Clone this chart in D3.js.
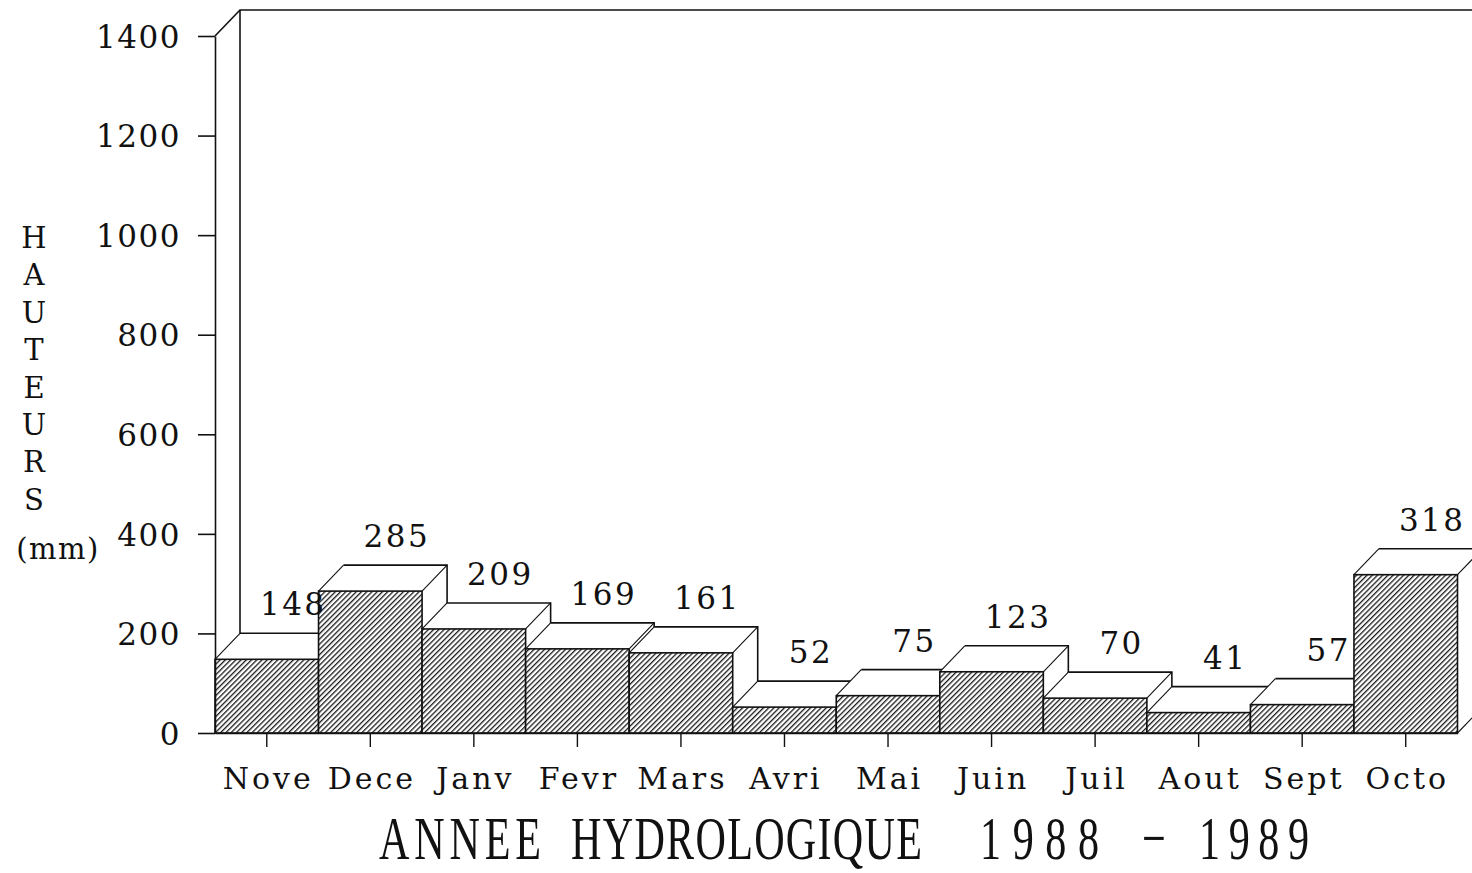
<!DOCTYPE html>
<html>
<head>
<meta charset="utf-8">
<script src="https://cdn.jsdelivr.net/npm/d3@7/dist/d3.min.js"></script>
<style>
  html, body { margin: 0; padding: 0; background: #fff; }
  svg { display: block; }
  .lbl { font-family: "DejaVu Serif", serif; fill: #111; }
</style>
</head>
<body>
<svg id="chart" width="1472" height="873"></svg>
<script>
// Monthly rainfall, hydrological year 1988-1989
const months = ["Nove", "Dece", "Janv", "Fevr", "Mars", "Avri", "Mai", "Juin", "Juil", "Aout", "Sept", "Octo"];
const heights = [148, 285, 209, 169, 161, 52, 75, 123, 70, 41, 57, 318];
const yTicks = [0, 200, 400, 600, 800, 1000, 1200, 1400];
const yLetters = ["H", "A", "U", "T", "E", "U", "R", "S"];
const yUnit = "(mm)";
const titleWords = ["ANNEE", "HYDROLOGIQUE", "1988", "\u2212", "1989"];

// layout of the condensed title: left edge and width of each word
const titleLayout = [[379, 162], [571, 351], [980, 119], [1142, 22], [1199, 110]];

const svg = d3.select("#chart");
const ink = "#111";

const x = d3.scaleBand().domain(months).range([215, 1457.5]).padding(0);
const y = d3.scaleLinear().domain([0, 1400]).range([733, 36]);
const dx = 25, dy = -26;   // oblique depth offset

// hatch pattern for the bar fronts
const defs = svg.append("defs");
const pat = defs.append("pattern")
  .attr("id", "hatch")
  .attr("patternUnits", "userSpaceOnUse")
  .attr("width", 3.7).attr("height", 10)
  .attr("patternTransform", "rotate(45)");
pat.append("rect").attr("width", 3.7).attr("height", 10).attr("fill", "#fff");
pat.append("rect").attr("width", 1.3).attr("height", 10).attr("fill", "#1a1a1a");

// back wall: top edge and rear vertical
const x0 = x.range()[0], x1 = x.range()[1];
svg.append("path")
  .attr("d", `M${x0},${y(1400)} L${x0 + dx},${y(1400) + dy} L${x1 + dx + 20},${y(1400) + dy}`)
  .attr("fill", "none").attr("stroke", ink).attr("stroke-width", 1.6);
svg.append("line")
  .attr("x1", x0 + dx).attr("x2", x0 + dx)
  .attr("y1", y(1400) + dy).attr("y2", y(0) + dy)
  .attr("stroke", ink).attr("stroke-width", 1.6);

// bars, painted left to right so each hides its neighbour's side face
const data = months.map((m, i) => ({ m, v: heights[i] }));
const bars = svg.append("g").selectAll("g").data(data).join("g");

bars.each(function(d) {
  const g = d3.select(this);
  const L = x(d.m), R = x(d.m) + x.bandwidth();
  const T = y(d.v), B = y(0);
  // right side face
  g.append("path")
    .attr("d", `M${R},${T} L${R + dx},${T + dy} L${R + dx},${B + dy} L${R},${B} Z`)
    .attr("fill", "#fff").attr("stroke", "none");
  // top face
  g.append("path")
    .attr("d", `M${L},${T} L${L + dx},${T + dy} L${R + dx},${T + dy} L${R},${T} Z`)
    .attr("fill", "#fff").attr("stroke", "none");
  // front face
  g.append("rect")
    .attr("x", L).attr("y", T).attr("width", R - L).attr("height", B - T)
    .attr("fill", "url(#hatch)").attr("stroke", ink).attr("stroke-width", 1.6);
  // edges of the top and side
  g.append("path")
    .attr("d", `M${L + dx},${T + dy} L${R + dx},${T + dy} L${R + dx},${B + dy}`)
    .attr("fill", "none").attr("stroke", ink).attr("stroke-width", 1.6);
  g.append("path")
    .attr("d", `M${L},${T} L${L + dx},${T + dy} M${R},${T} L${R + dx},${T + dy} M${R},${B} L${R + dx},${B + dy}`)
    .attr("fill", "none").attr("stroke", ink).attr("stroke-width", 1.1);
});

// value labels above each top face
svg.append("g").selectAll("text").data(data).join("text")
  .attr("class", "lbl")
  .attr("x", d => x(d.m) + x.bandwidth() / 2 + dx + 1.5)
  .attr("y", d => y(d.v) + dy - 18)
  .attr("text-anchor", "middle")
  .attr("font-size", 31)
  .attr("letter-spacing", 2.5)
  .text(d => d.v);

// left axis
const yAxis = svg.append("g")
  .attr("transform", `translate(${x0},0)`)
  .call(d3.axisLeft(y).tickValues(yTicks).tickSize(17).tickSizeOuter(0).tickPadding(17)
    .tickFormat(d3.format("d")));
yAxis.select(".domain").attr("stroke", ink).attr("stroke-width", 1.6);
yAxis.selectAll(".tick line").attr("stroke", ink).attr("stroke-width", 1.6);
yAxis.selectAll(".tick text")
  .attr("class", "lbl")
  .attr("font-size", 31)
  .attr("letter-spacing", 1.5)
  .attr("dy", "0.36em")
  .attr("fill", ink);

// bottom axis
const xAxis = svg.append("g")
  .attr("transform", `translate(0,${y(0)})`)
  .call(d3.axisBottom(x).tickSize(14).tickSizeOuter(0).tickPadding(21));
xAxis.select(".domain").attr("stroke", ink).attr("stroke-width", 1.6);
xAxis.selectAll(".tick line").attr("stroke", ink).attr("stroke-width", 1.4);
xAxis.selectAll(".tick text")
  .attr("class", "lbl")
  .attr("font-size", 30)
  .attr("letter-spacing", 3)
  .attr("dx", 1.5)
  .attr("fill", ink);

// vertical axis title, stacked letters
svg.append("g").selectAll("text").data(yLetters).join("text")
  .attr("class", "lbl")
  .attr("x", 34)
  .attr("y", (d, i) => 248 + i * 37.4)
  .attr("text-anchor", "middle")
  .attr("font-size", 29)
  .text(d => d);
svg.append("text")
  .attr("class", "lbl")
  .attr("x", 58).attr("y", 559)
  .attr("text-anchor", "middle")
  .attr("font-size", 29)
  .attr("letter-spacing", 1.5)
  .text(yUnit);

// chart title, tall condensed lettering
const sx = 0.68;
svg.append("g").selectAll("text").data(titleWords).join("text")
  .attr("transform", (d, i) => `translate(${titleLayout[i][0]},859) scale(${sx},1)`)
  .attr("x", 0).attr("y", 0)
  .attr("font-family", "Liberation Serif, serif")
  .attr("font-size", 62)
  .attr("fill", ink)
  .each(function(d, i) {
    if (d.length > 1) {
      d3.select(this)
        .attr("textLength", titleLayout[i][1] / sx)
        .attr("lengthAdjust", "spacing");
    }
  })
  .text(d => d);
</script>
</body>
</html>
